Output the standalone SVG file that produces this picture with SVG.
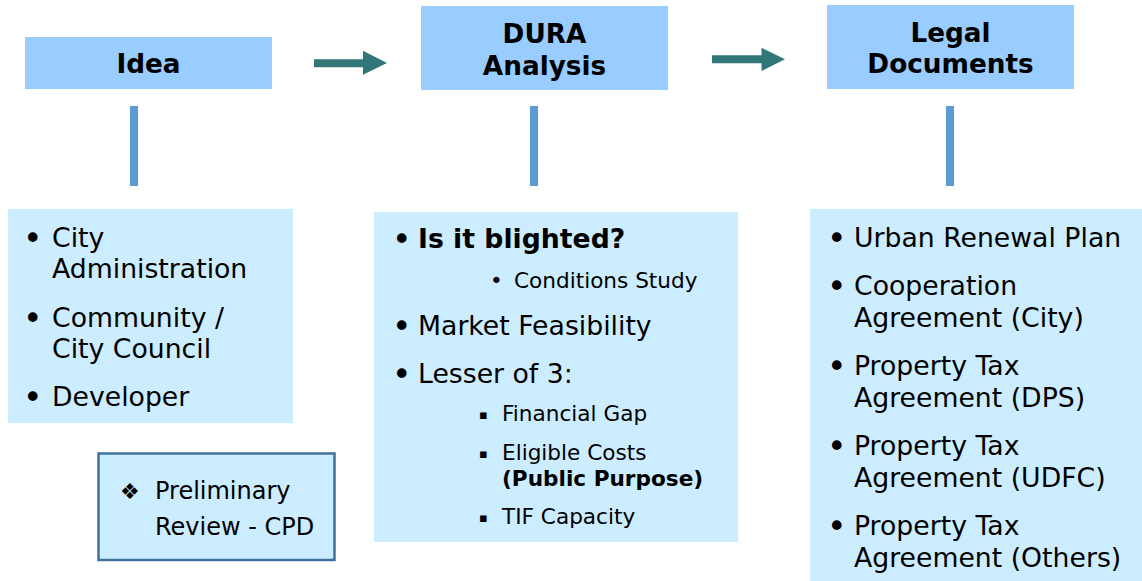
<svg xmlns="http://www.w3.org/2000/svg" width="1142" height="581" viewBox="0 0 1142 581">
<style>
.hdr{fill:#99ccff}
.lt{fill:#ccecff}
.t{font-family:"DejaVu Sans",Verdana,sans-serif;fill:#000}
.h{font-size:26.3px;font-weight:bold;text-anchor:middle}
.m{font-size:26.7px}
.s{font-size:21.6px}
.bl{font-size:33px}
.sq{font-size:13px}
.b{font-weight:bold}
.vl{fill:#5b9bd5}
.ar{fill:#31777a}
</style>
<rect width="1142" height="581" fill="#fff"/>
<g id="idea">
<rect class="hdr" x="25" y="37" width="247" height="52"/>
<text class="t h" x="148.5" y="73">Idea</text>
</g>
<g id="dura">
<rect class="hdr" x="421" y="6" width="247" height="84"/>
<text class="t h" x="544.5" y="43">DURA</text>
<text class="t h" x="544.5" y="75">Analysis</text>
</g>
<g id="legal">
<rect class="hdr" x="827" y="5" width="247" height="84"/>
<text class="t h" x="950.5" y="42">Legal</text>
<text class="t h" x="950.5" y="73">Documents</text>
</g>
<g id="connectors">
<polygon class="ar" points="314,59.3 363,59.3 363,50.7 387,63 363,74.7 363,67.3 314,67.3"/>
<polygon class="ar" points="712,55.3 761.5,55.3 761.5,47.7 785,59.3 761.5,71 761.5,63.3 712,63.3"/>
<rect class="vl" x="130" y="106" width="8" height="80"/>
<rect class="vl" x="530" y="106" width="8" height="80"/>
<rect class="vl" x="946" y="106" width="8" height="80"/>
</g>
<g id="idea-list">
<rect class="lt" x="8" y="209" width="285" height="214"/>
<text class="t bl" x="23" y="249.5">•</text>
<text class="t m" x="52" y="247">City</text>
<text class="t m" x="52" y="278">Administration</text>
<text class="t bl" x="23" y="329.5">•</text>
<text class="t m" x="52" y="327">Community /</text>
<text class="t m" x="52" y="358">City Council</text>
<text class="t bl" x="23" y="408.5">•</text>
<text class="t m" x="52" y="406">Developer</text>
</g>
<g id="preliminary">
<rect class="lt" x="98.5" y="453.5" width="236" height="106.5" stroke="#41719c" stroke-width="2.5"/>
<text class="t" x="120" y="499" font-size="22">❖</text>
<text class="t" x="155" y="499" font-size="24">Preliminary</text>
<text class="t" x="155" y="535" font-size="24">Review - CPD</text>
</g>
<g id="dura-list">
<rect class="lt" x="374" y="212" width="364" height="330"/>
<text class="t bl" x="392" y="250.5">•</text>
<text class="t m b" x="418" y="248">Is it blighted?</text>
<text class="t s" x="490" y="288">•</text>
<text class="t s" x="514" y="288">Conditions Study</text>
<text class="t bl" x="392" y="337.5">•</text>
<text class="t m" x="418" y="335">Market Feasibility</text>
<text class="t bl" x="392" y="385.5">•</text>
<text class="t m" x="418" y="383">Lesser of 3:</text>
<text class="t sq" x="479" y="419">▪</text>
<text class="t s" x="502" y="421">Financial Gap</text>
<text class="t sq" x="479" y="458">▪</text>
<text class="t s" x="502" y="460">Eligible Costs</text>
<text class="t s b" x="502" y="486">(Public Purpose)</text>
<text class="t sq" x="479" y="522">▪</text>
<text class="t s" x="502" y="524">TIF Capacity</text>
</g>
<g id="legal-list">
<rect class="lt" x="810" y="209" width="332" height="372"/>
<text class="t bl" x="827" y="249.5">•</text>
<text class="t m" x="854" y="247">Urban Renewal Plan</text>
<text class="t bl" x="827" y="297.5">•</text>
<text class="t m" x="854" y="295">Cooperation</text>
<text class="t m" x="854" y="327">Agreement (City)</text>
<text class="t bl" x="827" y="377.5">•</text>
<text class="t m" x="854" y="375">Property Tax</text>
<text class="t m" x="854" y="407">Agreement (DPS)</text>
<text class="t bl" x="827" y="457.5">•</text>
<text class="t m" x="854" y="455">Property Tax</text>
<text class="t m" x="854" y="487">Agreement (UDFC)</text>
<text class="t bl" x="827" y="537.5">•</text>
<text class="t m" x="854" y="535">Property Tax</text>
<text class="t m" x="854" y="567">Agreement (Others)</text>
</g>
</svg>
